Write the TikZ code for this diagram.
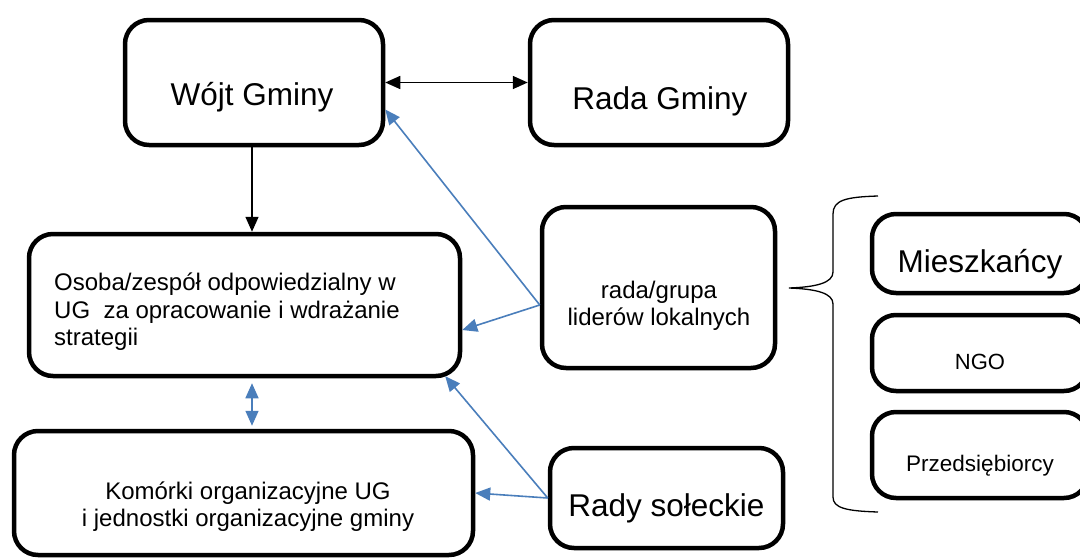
\documentclass[tikz,border=0pt]{standalone}
\usepackage{fontspec}
\setmainfont{Liberation Sans}
\usetikzlibrary{arrows.meta,calc}
\begin{document}
\begin{tikzpicture}[x=1pt,y=-1pt,
  box/.style={draw, line width=4.5pt, rounded corners=24pt, inner sep=0pt},
  big/.style={font=\fontsize{31.5}{36}\selectfont, inner sep=0pt},
  small/.style={font=\fontsize{24}{27.5}\selectfont, inner sep=0pt},
  blk/.style={line width=1.6pt, {Triangle[length=15pt,width=13pt]}-{Triangle[length=15pt,width=13pt]}},
  blkone/.style={line width=1.6pt, -{Triangle[length=15pt,width=13pt]}},
  blu/.style={draw=arrowblue, line width=1.6pt, -{Triangle[length=15pt,width=13pt]}},
  bludbl/.style={draw=arrowblue, line width=1.6pt, {Triangle[length=15pt,width=13pt]}-{Triangle[length=15pt,width=13pt]}}
]
\definecolor{arrowblue}{HTML}{4A7EBB}
\useasboundingbox (0,0) rectangle (1080,558);
\clip (0,0) rectangle (1080,558);
\fill[white] (0,0) rectangle (1080,558);

% boxes
\node[box, minimum width=258, minimum height=125] (wojt) at (254,82.5) {};
\node[box, minimum width=258, minimum height=125] (rada) at (659,82.5) {};
\node[box, minimum width=431, minimum height=142] (osoba) at (244.5,305) {};
\node[box, minimum width=459, minimum height=124] (komorki) at (243.5,493) {};
\node[box, minimum width=233, minimum height=161] (grupa) at (658.5,287.5) {};
\node[box, minimum width=233, minimum height=100] (soleckie) at (666.5,498) {};
\node[box, minimum width=216, minimum height=79] (miesz) at (980,253.5) {};
\node[box, minimum width=216, minimum height=76] (ngo) at (980,353) {};
\node[box, minimum width=216, minimum height=86] (przed) at (980,455) {};

% texts
\node[big] (twojt) at ($(wojt.center)+(-2,15)$) {Wójt Gminy};
\node[big] (trada) at ($(rada.center)+(1,19)$) {Rada Gminy};
\node[small, align=left, anchor=west] (tosoba) at (54,312) {Osoba/zespół odpowiedzialny w\\UG\ \ za opracowanie i wdrażanie\\strategii};
\node[small, align=center] (tkomorki) at (248,506.5) {Komórki organizacyjne UG\\i jednostki organizacyjne gminy};
\node[small, align=center] (tgrupa) at (659,306) {rada/grupa\\liderów lokalnych};
\node[big] (tsoleckie) at ($(soleckie.center)+(0,10)$) {Rady sołeckie};
\node[big] (tmiesz) at ($(miesz.center)+(0,11)$) {Mieszkańcy};
\node[small, font=\fontsize{22}{26}\selectfont] (tngo) at ($(ngo.center)+(0,9)$) {NGO};
\node[small, font=\fontsize{22.5}{26}\selectfont] (tprzed) at ($(przed.center)+(0,11)$) {Przedsiębiorcy};

% brace
\draw[line width=1.3pt] (878,196) .. controls (846,197) and (833,200) .. (833,214) -- (833,272)
  .. controls (833,283) and (816,287) .. (789,288)
  .. controls (816,289) and (833,293) .. (833,304) -- (833,497)
  .. controls (833,508) and (846,511) .. (878,512);

% coordinates for connector ends
\coordinate (gw) at ($(grupa.west)+(0,17.5)$);
\coordinate (sw) at (soleckie.west);
\coordinate (oa) at ($(osoba.south)+(7.5,5)$);
\coordinate (kb) at ($(komorki.north)+(8.5,-3)$);

% connectors
\draw[blk] (wojt.east) -- (rada.west);
\draw[blkone] ($(wojt.south)+(-2,0)$) -- ($(wojt.south |- osoba.north)+(-2,0)$);
\draw[bludbl] (oa) -- (kb);
\draw[blu] (gw) -- ($(wojt.east)+(0,27)$);
\draw[blu] (gw) -- ($(osoba.east)+(0,25)$);
\draw[blu] (sw) -- ($(osoba.south east)+(-17,-2)$);
\draw[blu] (sw) -- (komorki.east);
\end{tikzpicture}
\end{document}
